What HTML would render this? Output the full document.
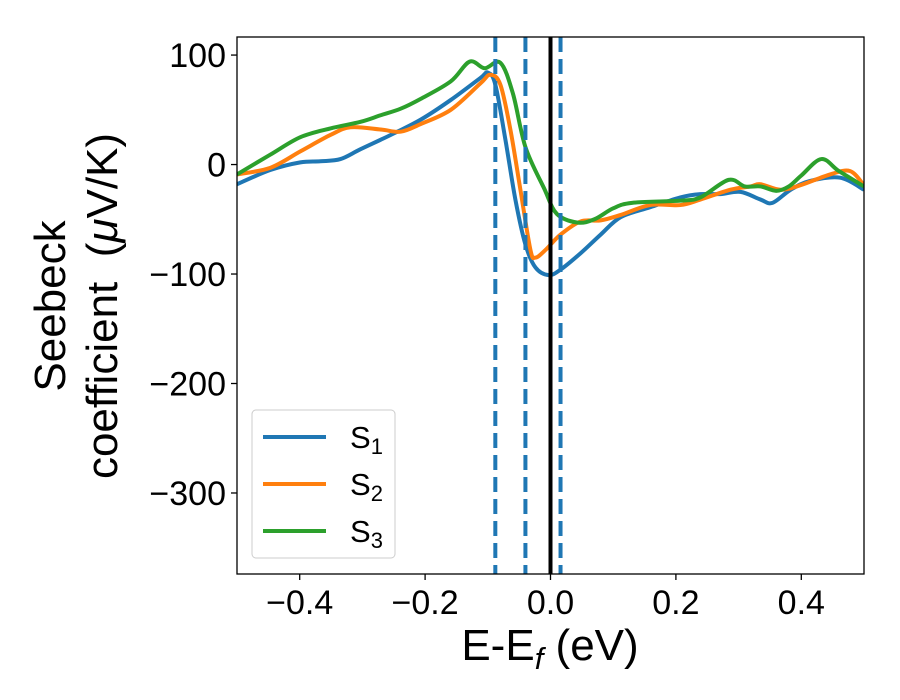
<!DOCTYPE html>
<html><head><meta charset="utf-8"><style>
body{margin:0;background:#fff}
svg{display:block;font-family:"Liberation Sans","DejaVu Sans",sans-serif}
</style></head><body>
<svg id="chart" width="900" height="700" xmlns="http://www.w3.org/2000/svg">
<defs><clipPath id="clip"><rect x="237" y="37" width="627" height="537"/></clipPath></defs>
<g id="plot" clip-path="url(#clip)"></g>
<rect x="237" y="37" width="627" height="537" fill="none" stroke="#000" stroke-width="1.3"/>
<g id="ticks"></g>
<text x="550" y="660" font-size="44" text-anchor="middle">E-E<tspan font-size="31" dy="9" font-style="italic">f</tspan><tspan dy="-9"> (eV)</tspan></text>
<g transform="translate(65,306) rotate(-90)">
<text x="0" y="0" font-size="44" text-anchor="middle">Seebeck</text>
<text x="0" y="52" font-size="44" text-anchor="middle">coefficient &#160;(<tspan font-style="italic">μ</tspan>V/K)</text>
</g>
<g>
<rect x="252" y="410" width="143" height="148" rx="4" fill="#fff" fill-opacity="0.8" stroke="#ccc"/>
<line x1="263" y1="437" x2="326" y2="437" stroke="#1f77b4" stroke-width="4"/>
<text x="350" y="448" font-size="31">S<tspan font-size="22" dy="6">1</tspan></text>
<line x1="263" y1="484" x2="326" y2="484" stroke="#ff7f0e" stroke-width="4"/>
<text x="350" y="495" font-size="31">S<tspan font-size="22" dy="6">2</tspan></text>
<line x1="263" y1="531" x2="326" y2="531" stroke="#2ca02c" stroke-width="4"/>
<text x="350" y="542" font-size="31">S<tspan font-size="22" dy="6">3</tspan></text>
</g>
</svg>
<script>
const xTicks=[-0.4,-0.2,0.0,0.2,0.4];
const xTickLabels=["−0.4","−0.2","0.0","0.2","0.4"];
const yTicks=[100,0,-100,-200,-300];
const yTickLabels=["100","0","−100","−200","−300"];
const s1X=[-0.5,-0.447,-0.399,-0.367,-0.335,-0.303,-0.255,-0.207,-0.159,-0.112,-0.100,-0.088,-0.072,-0.056,-0.040,-0.024,-0.003,0.016,0.048,0.080,0.112,0.159,0.207,0.239,0.271,0.303,0.335,0.354,0.383,0.414,0.462,0.5];
const s1Y=[-18,-5,2,3,5,14,27,41,59,79,84,73,23,-32,-73,-94,-101,-96,-81,-64,-48,-39,-30,-27,-27,-25,-32,-35,-23,-15,-12,-23];
const s2X=[-0.5,-0.447,-0.399,-0.351,-0.319,-0.271,-0.239,-0.207,-0.159,-0.112,-0.096,-0.080,-0.064,-0.048,-0.032,-0.024,-0.008,0.016,0.048,0.080,0.112,0.159,0.207,0.239,0.287,0.319,0.335,0.367,0.398,0.446,0.478,0.5];
const s2Y=[-9,-3,12,27,34,32,30,37,50,74,82,73,32,-23,-78,-85,-78,-64,-52,-51,-46,-37,-37,-32,-23,-20,-18,-23,-19,-9,-6,-19];
const s3X=[-0.5,-0.447,-0.399,-0.351,-0.303,-0.271,-0.239,-0.207,-0.159,-0.129,-0.105,-0.080,-0.060,-0.040,-0.010,0.010,0.043,0.070,0.100,0.130,0.207,0.239,0.284,0.310,0.335,0.360,0.380,0.400,0.432,0.460,0.5];
const s3Y=[-9,9,25,33,39,45,51,60,76,94,88,93,65,16,-22,-45,-53,-50,-40,-35,-33,-30,-14,-20,-20,-24,-20,-10,5,-6,-20];
const vDashed=[-0.088,-0.040,0.016];
const vSolid=[0.0];

const X0=237,X1=864,Y0=37,Y1=574,xmin=-0.5,xmax=0.5,ymin=-374,ymax=116.5;
const sx=v=>X0+(v-xmin)/(xmax-xmin)*(X1-X0);
const sy=v=>Y1-(v-ymin)/(ymax-ymin)*(Y1-Y0);
const NS="http://www.w3.org/2000/svg";
const plot=document.getElementById('plot'),ticks=document.getElementById('ticks');
function mk(tag,attrs,parent){const e=document.createElementNS(NS,tag);for(const k in attrs)e.setAttribute(k,attrs[k]);parent.appendChild(e);return e;}
function smooth(xs,ys){const p=xs.map((x,i)=>[sx(x),sy(ys[i])]);let d="M"+p[0][0]+","+p[0][1];
for(let i=0;i<p.length-1;i++){const a=p[Math.max(0,i-1)],b=p[i],c=p[i+1],e=p[Math.min(p.length-1,i+2)];
d+=` C${b[0]+(c[0]-a[0])/6},${b[1]+(c[1]-a[1])/6} ${c[0]-(e[0]-b[0])/6},${c[1]-(e[1]-b[1])/6} ${c[0]},${c[1]}`;}return d;}
[[s1X,s1Y,"#1f77b4","series-s1"],[s2X,s2Y,"#ff7f0e","series-s2"],[s3X,s3Y,"#2ca02c","series-s3"]].forEach(s=>{
const el=mk('path',{d:smooth(s[0],s[1]),fill:"none",stroke:s[2],"stroke-width":4,"stroke-linejoin":"round"},plot);


});
vDashed.forEach(v=>{const el=mk('line',{x1:sx(v),x2:sx(v),y1:Y0,y2:Y1,stroke:"#1f77b4","stroke-width":4,"stroke-dasharray":"15,7"},plot);

});
vSolid.forEach(v=>{const el=mk('line',{x1:sx(v),x2:sx(v),y1:Y0,y2:Y1,stroke:"#000","stroke-width":4},plot);

});
xTicks.forEach((v,i)=>{mk('line',{x1:sx(v),x2:sx(v),y1:Y1,y2:Y1+6,stroke:"#000","stroke-width":1.3},ticks);
const t=mk('text',{x:sx(v),y:Y1+40,"font-size":34,"text-anchor":"middle"},ticks);t.textContent=xTickLabels[i];

});
yTicks.forEach((v,i)=>{mk('line',{x1:X0-6,x2:X0,y1:sy(v),y2:sy(v),stroke:"#000","stroke-width":1.3},ticks);
const t=mk('text',{x:X0-11,y:sy(v)+12,"font-size":34,"text-anchor":"end"},ticks);t.textContent=yTickLabels[i];

});
</script>
</body></html>
